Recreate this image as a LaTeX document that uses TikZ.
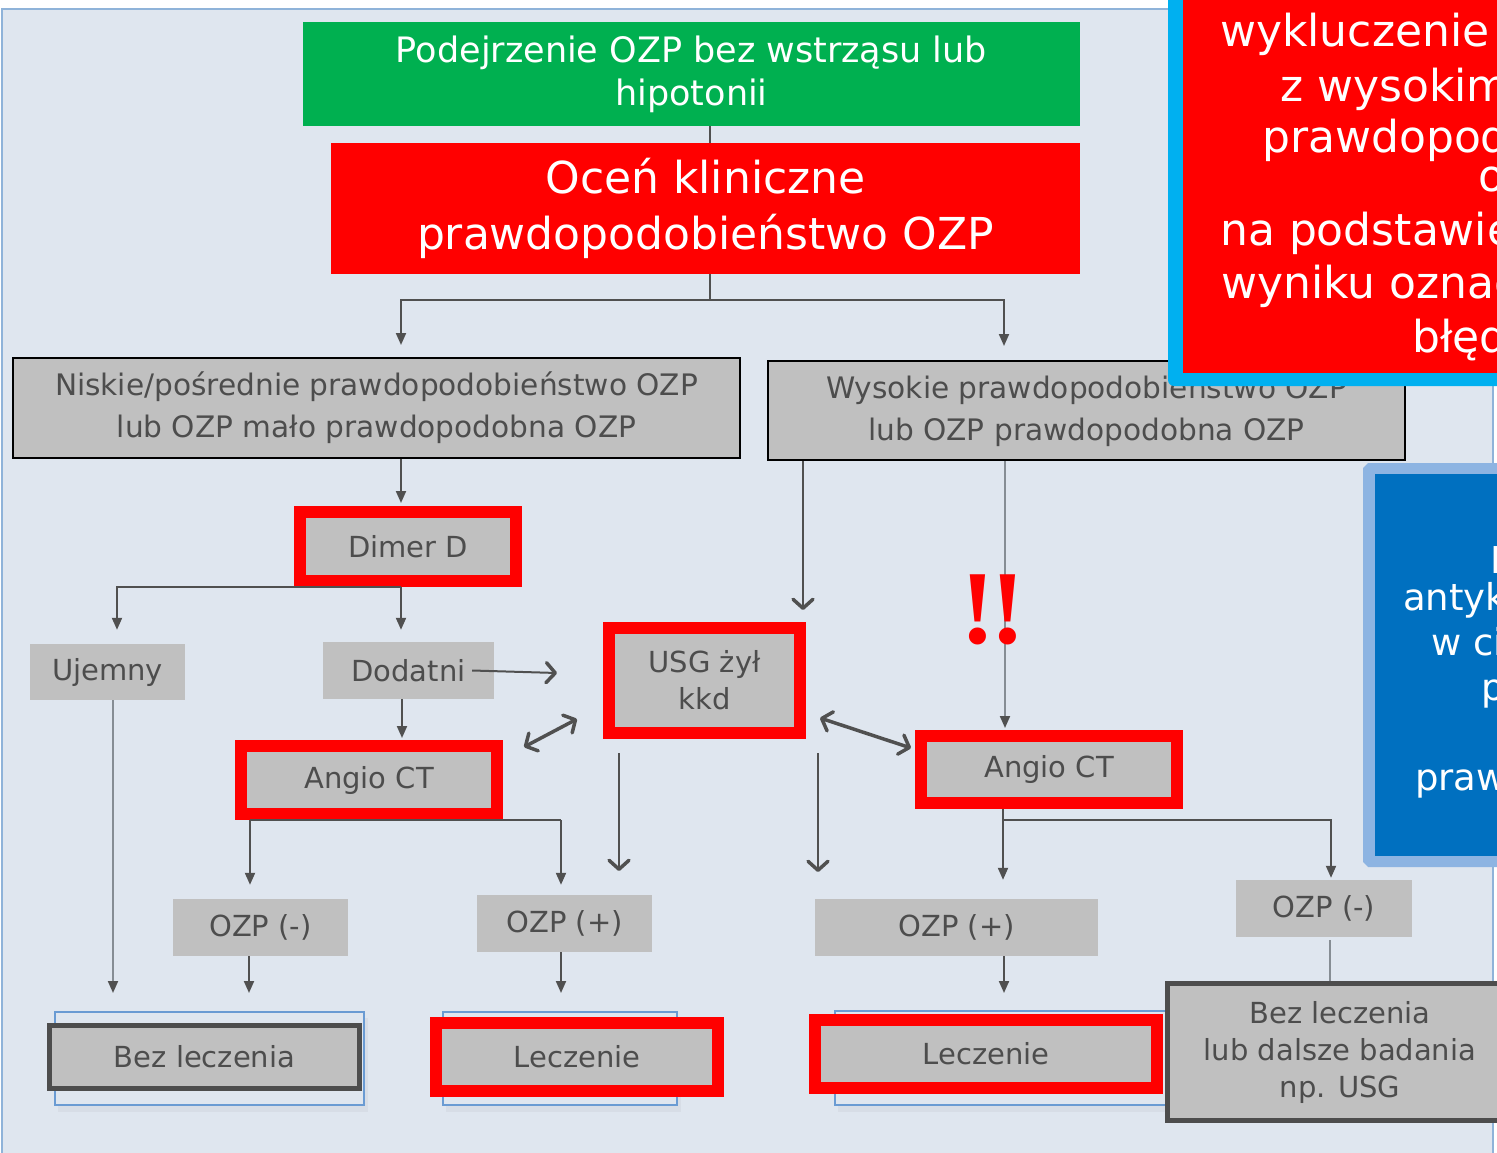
\documentclass[tikz,border=0pt]{standalone}
\usepackage{fontspec}
\setmainfont{DejaVu Sans}
\newfontfamily\exclfont{Liberation Serif}
\usetikzlibrary{arrows.meta}
\definecolor{bgc}{HTML}{DFE6EF}
\definecolor{bordc}{HTML}{8FB3D9}
\definecolor{grnc}{HTML}{00B050}
\definecolor{redc}{HTML}{FF0000}
\definecolor{boxg}{HTML}{C0C0C0}
\definecolor{txtg}{HTML}{4D4D4D}
\definecolor{linec}{HTML}{505050}
\definecolor{lightl}{HTML}{868D94}
\definecolor{cyanc}{HTML}{00B0F0}
\definecolor{lblue}{HTML}{8DB4E2}
\definecolor{dblue}{HTML}{0070C0}
\definecolor{blueo}{HTML}{6A9BD3}
\definecolor{darkb}{HTML}{4D4D4D}
\tikzset{
  grn/.style={fill=grnc, text=white, inner sep=0pt, align=center, minimum width=777pt, minimum height=104pt, font=\fontsize{35}{43}\selectfont},
  ttl/.style={fill=redc, text=white, inner sep=0pt, align=center, minimum width=749pt, minimum height=131pt, font=\fontsize{44}{56}\selectfont},
  gbox/.style={fill=boxg, text=txtg, inner sep=0pt, align=center, font=\fontsize{29}{37}\selectfont},
  blkbox/.style={gbox, draw=black, line width=2pt, font=\fontsize{29.6}{42}\selectfont},
  redbox/.style={gbox, draw=redc, line width=12pt},
  darkbox/.style={gbox, draw=darkb, line width=5pt},
  conn/.style={draw=linec, line width=2pt},
  tree/.style={conn, -{Triangle[length=12pt,width=10pt]}},
  lighttree/.style={conn, draw=lightl, -{Triangle[length=12pt,width=10pt,color=linec]}},
  opn/.style={conn, -{Straight Barb[length=9pt,width=20pt,line width=3.5pt,round]}},
  opnb/.style={conn, line width=3.5pt, {Straight Barb[length=9pt,width=20pt,round]}-{Straight Barb[length=9pt,width=20pt,round]}},
  wtxt/.style={text=white, inner sep=0pt, anchor=base west},
  rtxt/.style={wtxt, font=\fontsize{44}{52}\selectfont},
  btxt/.style={wtxt, font=\fontsize{37}{45}\selectfont},
  excl/.style={text=redc, inner sep=0pt, font=\exclfont\bfseries\fontsize{105}{105}\selectfont},
  shadowbox/.style={draw=blueo, line width=2pt, fill=bgc},
}
\begin{document}
\begin{tikzpicture}[x=1pt,y=-1pt]
\clip (0,0) rectangle (1497,1153);
\fill[white] (0,0) rectangle (1497,1153);
% background panel
\fill[bgc] (2,9) rectangle (1493,1160);
\draw[bordc, line width=1.5pt] (2,1160) -- (2,9) -- (1493,9) -- (1493,1160);

% top boxes
\node[grn] (green) at (691.5,74) {Podejrzenie OZP bez wstrząsu lub\\hipotonii};
\node[ttl] (title) at (705.5,208.5) {Oceń kliniczne\\prawdopodobieństwo OZP};
\node[blkbox, minimum width=727pt, minimum height=100pt] (niskie) at (376.5,408) {Niskie/pośrednie prawdopodobieństwo OZP\\lub OZP mało prawdopodobna OZP};
\node[blkbox, minimum width=637pt, minimum height=99pt] (wysokie) at (1086.5,410.5) {Wysokie prawdopodobieństwo OZP\\lub OZP prawdopodobna OZP};

% top-right callout
\fill[cyanc, rounded corners=6pt] (1168,-20) rectangle (1520,386);
\fill[redc] (1183,-20) rectangle (1520,373);
\node[rtxt] (r1) at (1220,47) {wykluczenie OZP};
\node[rtxt] (r2) at (1280,102) {z wysokim};
\node[rtxt] (r3) at (1262,153) {prawdopodobieństwem};
\node[rtxt] (r4) at (1478,192) {o};
\node[rtxt] (r5) at (1220,245) {na podstawie};
\node[rtxt] (r6) at (1221,298) {wyniku oznaczenia};
\node[rtxt] (r7) at (1412,352) {błędne};

% right blue callout
\fill[lblue] (1368,463) -- (1520,463) -- (1520,867) -- (1368,867) -- (1363,862) -- (1363,468) -- cycle;
\fill[dblue] (1375,474) rectangle (1520,856);
\node[btxt] (b1) at (1490,573) {Leczenie};
\node[btxt] (b2) at (1403,610) {antykoagulacyjne};
\node[btxt] (b3) at (1431,655) {w ciąży};
\node[btxt] (b4) at (1481,700) {przy};
\node[btxt] (b5) at (1415,790) {prawdopodobieństwie};

% middle boxes
\node[redbox, minimum width=216pt, minimum height=69pt] (dimer) at (408,546.5) {Dimer D};
\node[gbox, minimum width=155pt, minimum height=56pt] (ujemny) at (107.5,672) {Ujemny};
\node[gbox, minimum width=171pt, minimum height=57pt] (dodatni) at (408.5,670.5) {Dodatni};
\node[redbox, minimum width=256pt, minimum height=68pt] (angioL) at (369,780) {Angio CT};
\node[redbox, minimum width=191pt, minimum height=105pt] (usg) at (704.5,680.5) {USG żył\\kkd};
\node[redbox, minimum width=256pt, minimum height=67pt] (angioR) at (1049,769.5) {Angio CT};
\node[excl] (ex1) at (978,610) {!};

% lower boxes
\node[gbox, minimum width=175pt, minimum height=57pt] (ozpmL) at (260.5,927.5) {OZP (-)};
\node[gbox, minimum width=175pt, minimum height=57pt] (ozppL) at (564.5,923.5) {OZP (+)};
\node[gbox, minimum width=283pt, minimum height=57pt] (ozppR) at (956.5,927.5) {OZP (+)};
\node[gbox, minimum width=176pt, minimum height=57pt] (ozpmR) at (1324,908.5) {OZP (-)};

% bottom boxes with blue outline behind
\fill[black, opacity=0.035] (58,1018) rectangle (368,1112);
\fill[black, opacity=0.035] (446,1018) rectangle (681,1112);
\fill[black, opacity=0.035] (838,1017) rectangle (1170,1112);
\draw[shadowbox] (55,1012) rectangle (364,1105);
\draw[shadowbox] (443,1012) rectangle (677,1105);
\draw[shadowbox] (835,1011) rectangle (1166,1105);
\node[darkbox, minimum width=310pt, minimum height=63pt] (bezL) at (204.5,1057) {Bez leczenia};
\node[redbox, minimum width=282pt, minimum height=68pt] (leczL) at (577,1057) {Leczenie};
\node[redbox, minimum width=342pt, minimum height=68pt] (leczR) at (986,1054) {Leczenie};
\node[darkbox, minimum width=345pt, minimum height=137pt] (bezR) at (1340,1052) {Bez leczenia\\lub dalsze badania\\np. USG};

% junction coordinates and free ends
\coordinate (cA) at (710,300);
\coordinate (cR) at (1003,820);
\coordinate (dArr) at (557,673);
\coordinate (d1) at (524,747);
\coordinate (d2) at (577,719);
\coordinate (d3) at (820,718);
\coordinate (d4) at (911,748);
\coordinate (u1) at (619,871);
\coordinate (u2) at (818,872);

% connectors
\draw[conn] (green.south -| cA) -- (title.north -| cA);
\draw[conn] (title.south -| cA) -- (cA);
\draw[tree, shorten >=12pt] (cA) -| (niskie.north -| 401,0);
\draw[tree, shorten >=14pt] (cA) -| (wysokie.north -| 1004,0);
\draw[tree, shorten >=3pt] (niskie.south -| 401,0) -- (dimer.north -| 401,0);
\draw[tree, shorten >=14pt] (dimer.south -| 401,0) -| (ujemny.north -| 117,0);
\draw[tree, shorten >=12pt] (dimer.south -| 401,0) -- (dodatni.north -| 401,0);
\draw[lighttree, shorten >=30pt] (ujemny.south -| 113,0) -- (bezL.north -| 113,0);
\draw[opn] ([xshift=-22pt]dodatni.east) -- (dArr);
\draw[tree, shorten >=2pt] (dodatni.south -| 402,0) -- (angioL.north -| 402,0);
\draw[opnb] (d1) -- (d2);
\draw[tree, shorten >=14pt] (angioL.south -| 250,0) -- (ozpmL.north -| 250,0);
\draw[conn] (angioL.south -| 250,0) -- (angioL.south -| 561,0);
\draw[tree, shorten >=10pt] (angioL.south -| 561,0) -- (ozppL.north -| 561,0);
\draw[tree, shorten >=30pt] (ozpmL.south -| 249,0) -- (bezL.north -| 249,0);
\draw[tree, shorten >=24pt] (ozppL.south -| 561,0) -- (leczL.north -| 561,0);
\draw[opn, shorten >=12pt] (wysokie.south -| 803,0) -- (usg.north -| 803,0);
\draw[opn, shorten <=14pt] (usg.south -| u1) -- (u1);
\draw[opn, shorten <=14pt] (usg.south -| u2) -- (u2);
\draw[opnb] (d3) -- (d4);
\draw[lighttree, shorten >=2pt] (wysokie.south -| 1005,0) -- (angioR.north -| 1005,0);
\draw[conn] (angioR.south -| cR) -- (cR);
\draw[tree, shorten >=19pt] (cR) -- (ozppR.north -| cR);
\draw[tree, shorten >=2pt] (cR) -| (ozpmR.north -| 1331,0);
\draw[tree, shorten >=21pt] (ozppR.south -| 1004,0) -- (leczR.north -| 1004,0);
\draw[conn, draw=lightl, shorten <=3pt] (ozpmR.south -| 1330,0) -- (bezR.north -| 1330,0);

% exclamation marks drawn over the line
\node[excl] (ex2) at (1008,610) {!};
\end{tikzpicture}
\end{document}
